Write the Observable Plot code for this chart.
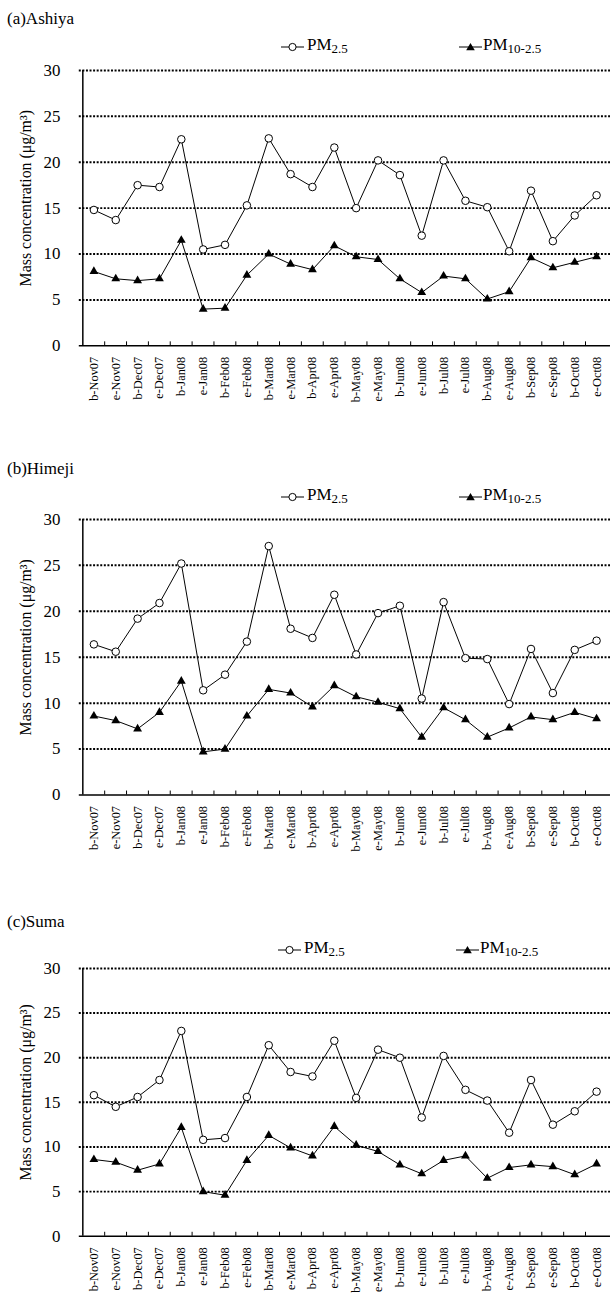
<!DOCTYPE html>
<html><head><meta charset="utf-8">
<script src="https://cdn.jsdelivr.net/npm/d3@7"></script>
<script src="https://cdn.jsdelivr.net/npm/@observablehq/plot@0.6"></script>
<style>
html,body{margin:0;padding:0;background:#fff;overflow:hidden;width:610px;height:1296px;}
body{position:relative;font-family:"Liberation Serif","Times New Roman",serif;color:#000;}
.abs{position:absolute;}
.title{font-size:17px;line-height:20px;white-space:nowrap;}
.leg{font-size:17px;line-height:20px;white-space:nowrap;}
.leg span{font-size:13px;position:relative;top:3px;}
</style></head><body>
<script>
const categories = ["b-Nov07","e-Nov07","b-Dec07","e-Dec07","b-Jan08","e-Jan08","b-Feb08","e-Feb08","b-Mar08","e-Mar08","b-Apr08","e-Apr08","b-May08","e-May08","b-Jun08","e-Jun08","b-Jul08","e-Jul08","b-Aug08","e-Aug08","b-Sep08","e-Sep08","b-Oct08","e-Oct08"];
const yTicks = [0,5,10,15,20,25,30];
const gridValues = [5,10,15,20,25,30];
const yLabel = "Mass concentration (\u03bcg/m\u00b3)";
const panelTitles = ["(a)Ashiya","(b)Himeji","(c)Suma"];
const seriesNames = ["PM2.5","PM10-2.5"];

const ashiyaPM25 = [14.8,13.7,17.5,17.3,22.5,10.5,11.0,15.3,22.6,18.7,17.3,21.6,15.0,20.2,18.6,12.0,20.2,15.8,15.1,10.3,16.9,11.4,14.2,16.4];
const ashiyaPM10 = [8.1,7.3,7.1,7.3,11.5,4.0,4.1,7.7,10.0,8.9,8.3,10.9,9.7,9.4,7.3,5.8,7.6,7.3,5.1,5.9,9.6,8.5,9.1,9.7];
const himejiPM25 = [16.4,15.6,19.2,20.9,25.2,11.4,13.1,16.7,27.1,18.1,17.1,21.8,15.3,19.8,20.6,10.5,21.0,14.9,14.8,9.9,15.9,11.1,15.8,16.8];
const himejiPM10 = [8.6,8.1,7.2,9.0,12.4,4.7,5.0,8.6,11.5,11.1,9.6,11.9,10.7,10.1,9.4,6.3,9.5,8.2,6.3,7.3,8.5,8.2,9.0,8.3];
const sumaPM25 = [15.8,14.5,15.6,17.5,23.0,10.8,11.0,15.6,21.4,18.4,17.9,21.9,15.5,20.9,20.0,13.3,20.2,16.4,15.2,11.6,17.5,12.5,14.0,16.2];
const sumaPM10 = [8.6,8.3,7.4,8.1,12.2,5.0,4.6,8.5,11.3,9.9,9.0,12.3,10.2,9.5,8.0,7.0,8.5,9.0,6.5,7.7,8.0,7.8,6.9,8.1];

const panels = [
  {title: panelTitles[0], pm25: ashiyaPM25, pm10: ashiyaPM10, titleBase: 25, legY: 46.5, legShift: 0, y30: 69.5, y0: 346.7},
  {title: panelTitles[1], pm25: himejiPM25, pm10: himejiPM10, titleBase: 475, legY: 496.5, legShift: 0, y30: 519.3, y0: 796.7},
  {title: panelTitles[2], pm25: sumaPM25, pm10: sumaPM10, titleBase: 928, legY: 949.5, legShift: -3, y30: 967.7, y0: 1237.3}
];

function addEl(html, left, top, cls) {
  const d = document.createElement("div");
  d.className = "abs " + (cls || "");
  d.style.left = left + "px";
  d.style.top = top + "px";
  d.innerHTML = html;
  document.body.appendChild(d);
  return d;
}

function swatch(kind) {
  const marker = kind === "circle"
    ? '<circle cx="11.5" cy="6" r="3.6" fill="white" stroke="black" stroke-width="1"/>'
    : '<path d="M11.5,2 L15.8,9.2 L7.2,9.2 Z" fill="black"/>';
  return '<svg width="23" height="12" style="display:block"><line x1="0" x2="23" y1="6" y2="6" stroke="black" stroke-width="1"/>' + marker + '</svg>';
}

function subName(name) {
  const base = name.slice(0, 2), sub = name.slice(2);
  return base + "<span>" + sub + "</span>";
}

for (const p of panels) {
  addEl(p.title, 7, p.titleBase - 15.7, "title");
  addEl(swatch("circle"), 281 + p.legShift, p.legY - 6);
  addEl(subName(seriesNames[0]), 307 + p.legShift, p.legY + 4.2 - 15.7, "leg");
  addEl(swatch("triangle"), 459 + p.legShift, p.legY - 6);
  addEl(subName(seriesNames[1]), 483 + p.legShift, p.legY + 4.2 - 15.7, "leg");

  const data25 = categories.map((c, i) => ({cat: c, v: p.pm25[i]}));
  const data10 = categories.map((c, i) => ({cat: c, v: p.pm10[i]}));
  const mt = 10, mb = 58;
  const plotH = p.y0 - p.y30;
  const H = mt + plotH + mb;
  const W = 614, ml = 79.3;
  const step = (W - ml) / categories.length;
  const chart = Plot.plot({
    width: W, height: H,
    marginTop: mt, marginBottom: mb, marginLeft: ml, marginRight: 0,
    style: {fontFamily: "Liberation Serif, Times New Roman, serif", color: "black", background: "white", overflow: "visible"},
    x: {type: "point", domain: categories, padding: 0.5, align: 0.5, label: null},
    y: {domain: [0, 30], label: null},
    marks: [
      Plot.ruleY(gridValues, {stroke: "black", strokeWidth: 2, strokeDasharray: "2,1.6"}),
      Plot.ruleY([0], {stroke: "black", strokeWidth: 1.5}),
      Plot.ruleX([categories[0]], {dx: -step / 2, stroke: "black", strokeWidth: 1.5}),
      Plot.ruleX(categories.slice(1), {dx: -step / 2, insetTop: plotH - 4, stroke: "black", strokeWidth: 1}),
      Plot.axisY({ticks: yTicks, tickSize: 0, tickPadding: 19, fontSize: 17, label: null}),
      Plot.axisX({tickRotate: -90, tickSize: 0, tickPadding: 11, fontSize: 12.5, label: null}),
      Plot.text([yLabel], {text: d => d, frameAnchor: "left", textAnchor: "middle", lineAnchor: "middle", dx: -54, dy: -10, rotate: -90, fontSize: 16, fill: "black"}),
      Plot.line(data25, {x: "cat", y: "v", stroke: "black", strokeWidth: 1}),
      Plot.line(data10, {x: "cat", y: "v", stroke: "black", strokeWidth: 1}),
      Plot.dot(data25, {x: "cat", y: "v", r: 3.8, fill: "white", stroke: "black", strokeWidth: 1}),
      Plot.dot(data10, {x: "cat", y: "v", symbol: "triangle", r: 3.3, fill: "black", stroke: "none"})
    ]
  });
  chart.style.position = "absolute";
  chart.style.left = "0px";
  chart.style.top = (p.y30 - mt) + "px";
  document.body.appendChild(chart);
}
</script>
</body></html>
